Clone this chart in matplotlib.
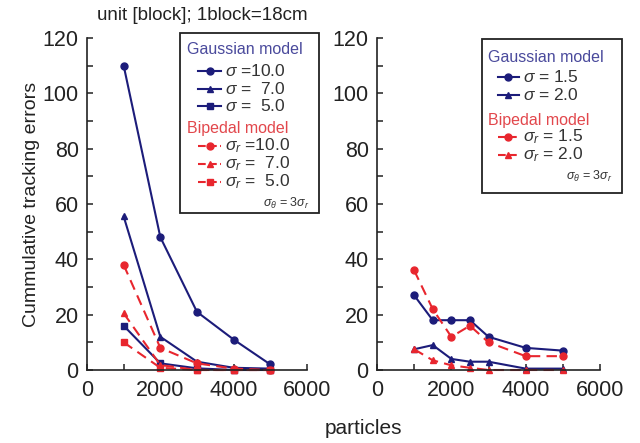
import matplotlib
matplotlib.use('Agg')
import matplotlib.pyplot as plt
from matplotlib.lines import Line2D
from matplotlib.patches import Rectangle
from matplotlib.ticker import MultipleLocator

plt.rcParams['font.family'] = 'Liberation Sans'
plt.rcParams['mathtext.fontset'] = 'custom'
plt.rcParams['mathtext.rm'] = 'Liberation Sans'
plt.rcParams['mathtext.it'] = 'Liberation Sans:italic'

navy = '#1c1c7a'
red = '#e8262e'
head_blue = '#4a4a9c'
head_red = '#e2474c'
txt = '#333333'

# left panel: large sigma
particles_L = [1000, 2000, 3000, 4000, 5000]
gauss_10 = [110, 48, 21, 11, 2]
gauss_7 = [55.5, 12, 3, 0.8, 0.5]
gauss_5 = [16, 2.4, 0.6, 0, 0]
biped_10 = [38, 8, 2.4, 0.5, 0]
biped_7 = [20.5, 1.8, 0, 0, 0]
biped_5 = [10, 0.8, 0, 0, 0]

# right panel: small sigma
particles_R = [1000, 1500, 2000, 2500, 3000, 4000, 5000]
gauss_15 = [27, 18, 18, 18, 12, 8, 7]
gauss_20 = [7.5, 9, 4, 3, 3, 0.5, 0.5]
biped_15 = [36, 22, 12, 16, 10, 5, 5]
biped_20 = [7.5, 3.5, 1.7, 0.8, 0, 0, 0]

fig = plt.figure(figsize=(6.4, 4.43), dpi=100)
W, H = 640.0, 443.0

def px(x, y):
    return x / W, 1 - y / H

axL = fig.add_axes([87 / W, 73 / H, 220 / W, 332 / H])
axR = fig.add_axes([377 / W, 73 / H, 223 / W, 332 / H])

dash = (0, (5, 3))
ms = 5
lw = 1.5

axL.plot(particles_L, gauss_10, color=navy, lw=lw, marker='o', ms=ms)
axL.plot(particles_L, gauss_7, color=navy, lw=lw, marker='^', ms=ms)
axL.plot(particles_L, gauss_5, color=navy, lw=lw, marker='s', ms=ms - 0.5)
axL.plot(particles_L, biped_10, color=red, lw=lw, ls=dash, marker='o', ms=ms)
axL.plot(particles_L, biped_7, color=red, lw=lw, ls=dash, marker='^', ms=ms)
axL.plot(particles_L, biped_5, color=red, lw=lw, ls=dash, marker='s', ms=ms - 0.5)

axR.plot(particles_R, gauss_15, color=navy, lw=lw, marker='o', ms=ms)
axR.plot(particles_R, gauss_20, color=navy, lw=lw, marker='^', ms=ms)
axR.plot(particles_R, biped_15, color=red, lw=lw, ls=dash, marker='o', ms=ms)
axR.plot(particles_R, biped_20, color=red, lw=lw, ls=dash, marker='^', ms=ms)

for ax in (axL, axR):
    ax.set_xlim(0, 6000)
    ax.set_ylim(0, 120)
    ax.spines['top'].set_visible(False)
    ax.spines['right'].set_visible(False)
    for s in ('left', 'bottom'):
        ax.spines[s].set_linewidth(1.2)
        ax.spines[s].set_color('#222222')
    ax.xaxis.set_major_locator(MultipleLocator(2000))
    ax.xaxis.set_minor_locator(MultipleLocator(1000))
    ax.yaxis.set_major_locator(MultipleLocator(20))
    ax.yaxis.set_minor_locator(MultipleLocator(10))
    ax.tick_params(which='both', direction='in', length=4, width=1.1,
                   color='#222222', labelsize=15.5, labelcolor='#222222')
    ax.tick_params(axis='x', pad=7)
    ax.tick_params(axis='y', pad=6)
    ax.set_facecolor('none')
    for l in ax.lines:
        l.set_clip_on(False)

axL.set_ylabel('Cummulative tracking errors', fontsize=14, color='#222222', labelpad=2)
fig.text(*px(363, 428), 'particles', fontsize=15, color='#222222', ha='center', va='center')
fig.text(*px(97, 15), 'unit [block]; 1block=18cm', fontsize=13.5, color='#222222', ha='left', va='center')


def legend_box(x0, y0, x1, y1, head_x, hx0, hx1, tx, rows):
    fig.patches.append(Rectangle(px(x0, y1), (x1 - x0) / W, (y1 - y0) / H,
                                 transform=fig.transFigure, fill=False,
                                 ec='#222222', lw=1.3))
    for kind, y, label, color, ls, mk in rows:
        if kind == 'head':
            fig.text(*px(head_x, y), label, color=color, fontsize=11.5,
                     ha='left', va='center')
        elif kind == 'entry':
            a, b = px(hx0, y)
            c, _ = px(hx1, y)
            fig.lines.append(Line2D([a, c], [b, b], transform=fig.transFigure,
                                    color=color, lw=lw, ls=ls))
            fig.lines.append(Line2D([(a + c) / 2], [b], transform=fig.transFigure,
                                    color=color, marker=mk, ms=ms, ls='none'))
            fig.text(*px(tx, y), label, color=txt, fontsize=12.5,
                     ha='left', va='center')
        else:
            fig.text(*px(x1 - 9, y + 1), label, color=txt, fontsize=9,
                     ha='right', va='center')


legend_box(180, 33, 319, 213, 187, 198, 221, 225, [
    ('head', 50, 'Gaussian model', head_blue, '-', None),
    ('entry', 71, r'$\sigma$ =10.0', navy, '-', 'o'),
    ('entry', 89, r'$\sigma$ =  7.0', navy, '-', '^'),
    ('entry', 106, r'$\sigma$ =  5.0', navy, '-', 's'),
    ('head', 129, 'Bipedal model', head_red, '-', None),
    ('entry', 146, r'$\sigma_r$ =10.0', red, '--', 'o'),
    ('entry', 164, r'$\sigma_r$ =  7.0', red, '--', '^'),
    ('entry', 182, r'$\sigma_r$ =  5.0', red, '--', 's'),
    ('note', 202, r'$\sigma_\theta$ = 3$\sigma_r$', txt, '-', None),
])

legend_box(482, 39, 622, 193, 488, 498, 519, 523, [
    ('head', 58, 'Gaussian model', head_blue, '-', None),
    ('entry', 77, r'$\sigma$ = 1.5', navy, '-', 'o'),
    ('entry', 95, r'$\sigma$ = 2.0', navy, '-', '^'),
    ('head', 120, 'Bipedal model', head_red, '-', None),
    ('entry', 137, r'$\sigma_r$ = 1.5', red, '--', 'o'),
    ('entry', 155, r'$\sigma_r$ = 2.0', red, '--', '^'),
    ('note', 175, r'$\sigma_\theta$ = 3$\sigma_r$', txt, '-', None),
])

fig.savefig('out.png', dpi=100)
